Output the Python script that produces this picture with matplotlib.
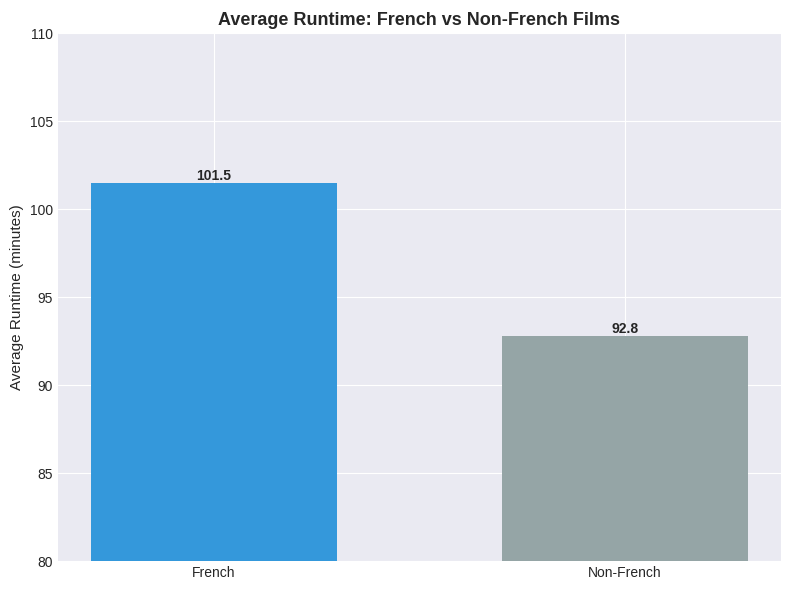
import matplotlib
matplotlib.use("Agg")
import matplotlib.pyplot as plt

# data
categories = ['French', 'Non-French']
avg_runtime = [101.5, 92.8]
bar_colors = ['#3498db', '#95a5a6']

plt.style.use('seaborn-v0_8-darkgrid')
plt.rcParams['font.family'] = ['Liberation Sans', 'DejaVu Sans']

fig, ax = plt.subplots(figsize=(7.9, 5.9), dpi=100)
bars = ax.bar(categories, avg_runtime, color=bar_colors, width=0.6)

# value labels on top of bars
for b, v in zip(bars, avg_runtime):
    ax.text(b.get_x() + b.get_width() / 2, v, f'{v:.1f}',
            ha='center', va='bottom', fontweight='bold', fontsize=10)

ax.set_ylim(80, 110)
ax.set_ylabel('Average Runtime (minutes)', fontsize=11)
ax.set_title('Average Runtime: French vs Non-French Films', fontsize=13, fontweight='bold')

fig.subplots_adjust(left=0.0734, right=0.9886, top=0.944, bottom=0.049)
plt.savefig('out.png', dpi=100)
